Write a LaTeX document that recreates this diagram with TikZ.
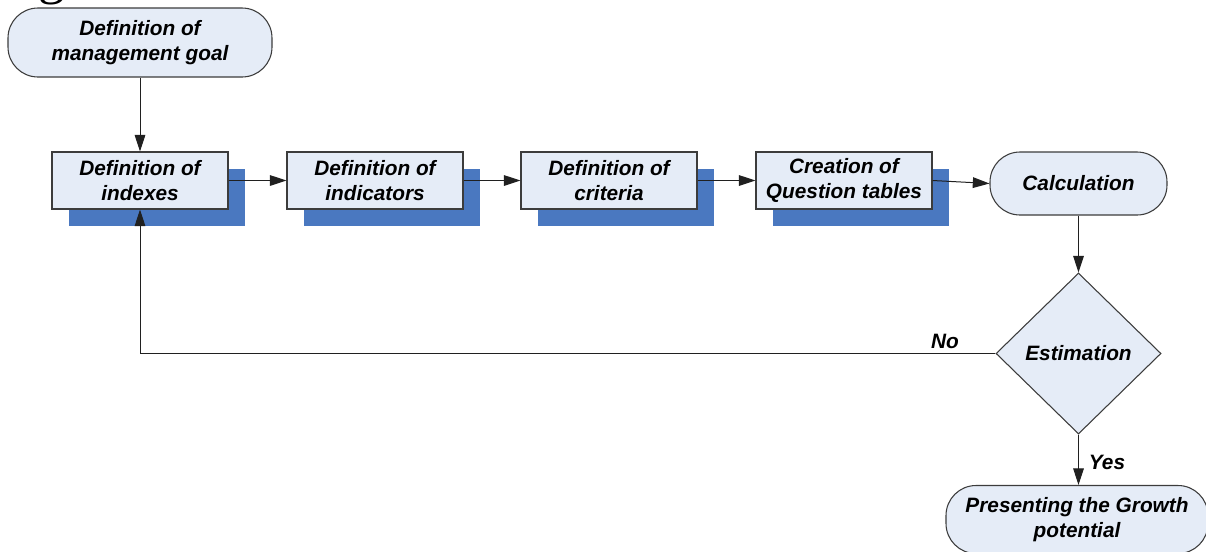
\documentclass[tikz,border=0pt]{standalone}
\usepackage{fontspec}
\setmainfont{Liberation Sans}
\newfontfamily\captionserif{Liberation Serif}
\usetikzlibrary{shapes.geometric,arrows.meta,shadows}

\definecolor{boxfill}{HTML}{E5ECF7}
\definecolor{edgegray}{HTML}{3C3C3C}
\definecolor{shadowblue}{HTML}{4A78C0}
\definecolor{linegray}{HTML}{202020}

\tikzset{
  lbl/.style={font=\bfseries\itshape\fontsize{15.6}{18.3}\selectfont, align=center, text=black},
  stepbox/.style={lbl, draw=edgegray, fill=boxfill, line width=0.8pt, inner sep=0pt,
    minimum width=132pt, minimum height=42.75pt,
    drop shadow={shadow xshift=12.75pt, shadow yshift=-12.75pt, fill=shadowblue, opacity=1}},
  termbox/.style={lbl, draw=edgegray, fill=boxfill, line width=0.8pt, inner sep=0pt,
    rounded corners=22.5pt},
  decide/.style={lbl, diamond, draw=edgegray, fill=boxfill, line width=0.8pt, inner sep=0pt,
    minimum width=123.75pt, minimum height=120.75pt},
  conn/.style={draw=linegray, line width=0.75pt, -{Triangle[length=12.5pt,width=8pt]}},
  tag/.style={font=\bfseries\itshape\fontsize{15.6}{18.3}\selectfont, text=black}
}

\begin{document}
\begin{tikzpicture}[x=0.75pt,y=-0.75pt]
  \useasboundingbox (0,0) rectangle (1206,551);

  % tail of the caption above the chart
  \node[anchor=base west, inner sep=0pt, font=\captionserif\fontsize{40}{40}\selectfont] (cap) at (38,-7) {g};

  % terminators
  \node[termbox, minimum width=198pt, minimum height=51.75pt] (goal) at (140,42.5)
    {Definition of\\management goal};
  \node[termbox, minimum width=132.75pt, minimum height=47.25pt] (calc) at (1078.5,183.5)
    {Calculation};
  \node[termbox, minimum width=196.5pt, minimum height=51pt] (pres) at (1077,519.5)
    {Presenting the Growth\\potential};

  % process steps
  \node[stepbox] (idx) at (140,180.5) {Definition of\\indexes};
  \node[stepbox] (ind) at (375,180.5) {Definition of\\indicators};
  \node[stepbox] (crit) at (609,180.5) {Definition of\\criteria};
  \node[stepbox] (quest) at (844,180.5) {Creation of\\Question tables};

  % decision
  \node[decide] (est) at (1078.5,353.5) {Estimation};

  % flow
  \draw[conn] (goal) -- (idx);
  \draw[conn] (idx) -- (ind);
  \draw[conn] (ind) -- (crit);
  \draw[conn] (crit) -- (quest);
  \draw[conn] (quest.east) -- (calc.west);
  \draw[conn] (calc.south) -- (est.north);
  \draw[conn] (est.west) -| (idx.south);
  \draw[conn] (est.south) -- (est.south |- pres.north);

  % branch labels
  \node[tag] (no) at (945,341) {No};
  \node[tag] (yes) at (1107,462) {Yes};
\end{tikzpicture}
\end{document}
